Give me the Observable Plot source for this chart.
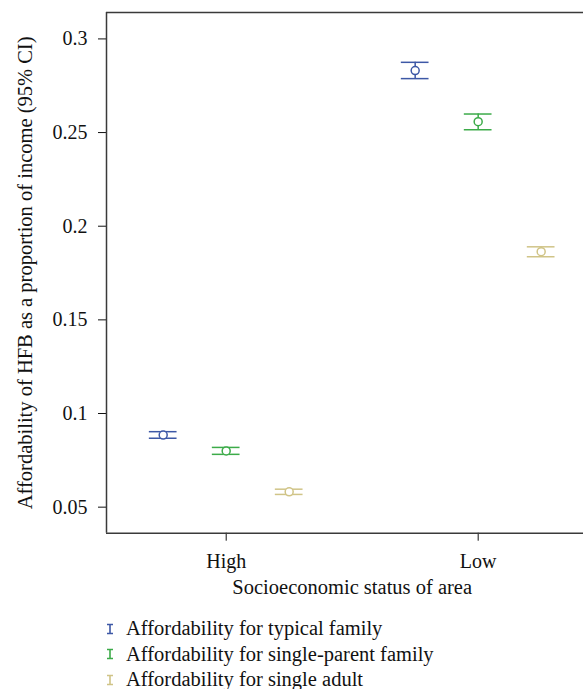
<!DOCTYPE html>
<html>
<head>
<meta charset="utf-8">
<script src="https://cdn.jsdelivr.net/npm/d3@7"></script>
<script src="https://cdn.jsdelivr.net/npm/@observablehq/plot@0.6"></script>
<style>
  html, body { margin: 0; padding: 0; background: #fff; overflow: hidden; }
  #legend { margin-top: 6px; padding-left: 106px; font-family: 'Liberation Serif', 'Times New Roman', serif; font-size: 20.5px; color: #111; }
  #legend .row { height: 25.5px; line-height: 25.5px; white-space: nowrap; display: flex; align-items: center; }
  #legend svg { margin-right: 12px; flex: none; }
</style>
</head>
<body>
<div id="chart"></div>
<div id="legend"></div>
<script>
// ---- data ----
const categories = ["High", "Low"];
const seriesNames = [
  "Affordability for typical family",
  "Affordability for single-parent family",
  "Affordability for single adult"
];
const seriesColors = ["#3d58a6", "#3cab49", "#d0c487"];

const meanTypical      = [0.0885, 0.2831];
const lowerTypical     = [0.0868, 0.2788];
const upperTypical     = [0.0903, 0.2875];

const meanSingleParent  = [0.0800, 0.2558];
const lowerSingleParent = [0.0782, 0.2515];
const upperSingleParent = [0.0819, 0.2599];

const meanSingleAdult  = [0.0582, 0.1864];
const lowerSingleAdult = [0.0568, 0.1837];
const upperSingleAdult = [0.0596, 0.1890];

const yTicks = [0.05, 0.1, 0.15, 0.2, 0.25, 0.3];
const yTickLabels = ["0.05", "0.1", "0.15", "0.2", "0.25", "0.3"];
const xLabel = "Socioeconomic status of area";
const yLabel = "Affordability of HFB as a proportion of income (95% CI)";

// ---- build table ----
const means = [meanTypical, meanSingleParent, meanSingleAdult];
const lowers = [lowerTypical, lowerSingleParent, lowerSingleAdult];
const uppers = [upperTypical, upperSingleParent, upperSingleAdult];
const dodge = 0.25;   // series offset within a category (category units)
const capHalf = 0.055;
const rows = [];
seriesNames.forEach((s, si) => {
  categories.forEach((c, ci) => {
    rows.push({
      series: s,
      category: c,
      x: ci + (si - 1) * dodge,
      mean: means[si][ci],
      lo: lowers[si][ci],
      hi: uppers[si][ci]
    });
  });
});

const xDomain = [-0.475, 1.418];
const yDomain = [0.0361, 0.3141];
const axisColor = "#3a3a3a";

const chart = Plot.plot({
  width: 583,
  height: 610,
  marginLeft: 106,
  marginRight: 0,
  marginTop: 12,
  marginBottom: 77.3,
  style: { fontFamily: "Liberation Serif, serif", fontSize: "20px", color: "#111", background: "#fff" },
  x: { domain: xDomain, ticks: categories.map((_, i) => i), tickFormat: i => categories[i], tickSize: 8, tickPadding: 13, label: null },
  y: { domain: yDomain, ticks: yTicks, tickFormat: (d, i) => yTickLabels[yTicks.indexOf(d)], tickSize: 8, tickPadding: 11, label: null },
  color: { domain: seriesNames, range: seriesColors },
  marks: [
    Plot.ruleY([yDomain[1]], { stroke: axisColor, strokeWidth: 1.5 }),
    Plot.ruleY([yDomain[0]], { stroke: axisColor, strokeWidth: 1.5 }),
    Plot.ruleX([xDomain[0]], { stroke: axisColor, strokeWidth: 1.5 }),
    Plot.ruleX(rows, { x: "x", y1: "lo", y2: "hi", stroke: "series", strokeWidth: 1.5 }),
    Plot.ruleY(rows, { y: "hi", x1: d => d.x - capHalf, x2: d => d.x + capHalf, stroke: "series", strokeWidth: 1.5 }),
    Plot.ruleY(rows, { y: "lo", x1: d => d.x - capHalf, x2: d => d.x + capHalf, stroke: "series", strokeWidth: 1.5 }),
    Plot.dot(rows, { x: "x", y: "mean", r: 4, stroke: "series", fill: "#fff", strokeWidth: 1.5 }),
    Plot.text([xLabel], { x: (0 + categories.length - 1) / 2, frameAnchor: "bottom", dy: 61, fontSize: 20.5, fill: "#111" }),
    Plot.text([yLabel], { frameAnchor: "left", textAnchor: "middle", rotate: -90, dx: -81, fontSize: 20.5, fill: "#111" })
  ]
});
document.getElementById("chart").appendChild(chart);

// ---- legend ----
const legend = d3.select("#legend");
seriesNames.forEach((s, i) => {
  const row = legend.append("div").attr("class", "row");
  const svg = row.append("svg").attr("width", 8).attr("height", 12);
  svg.append("path")
    .attr("d", "M1,1.5H7M4,1.5V10.5M1,10.5H7")
    .attr("stroke", seriesColors[i]).attr("stroke-width", 1.6).attr("fill", "none");
  row.append("span").text(s);
});
</script>
</body>
</html>
